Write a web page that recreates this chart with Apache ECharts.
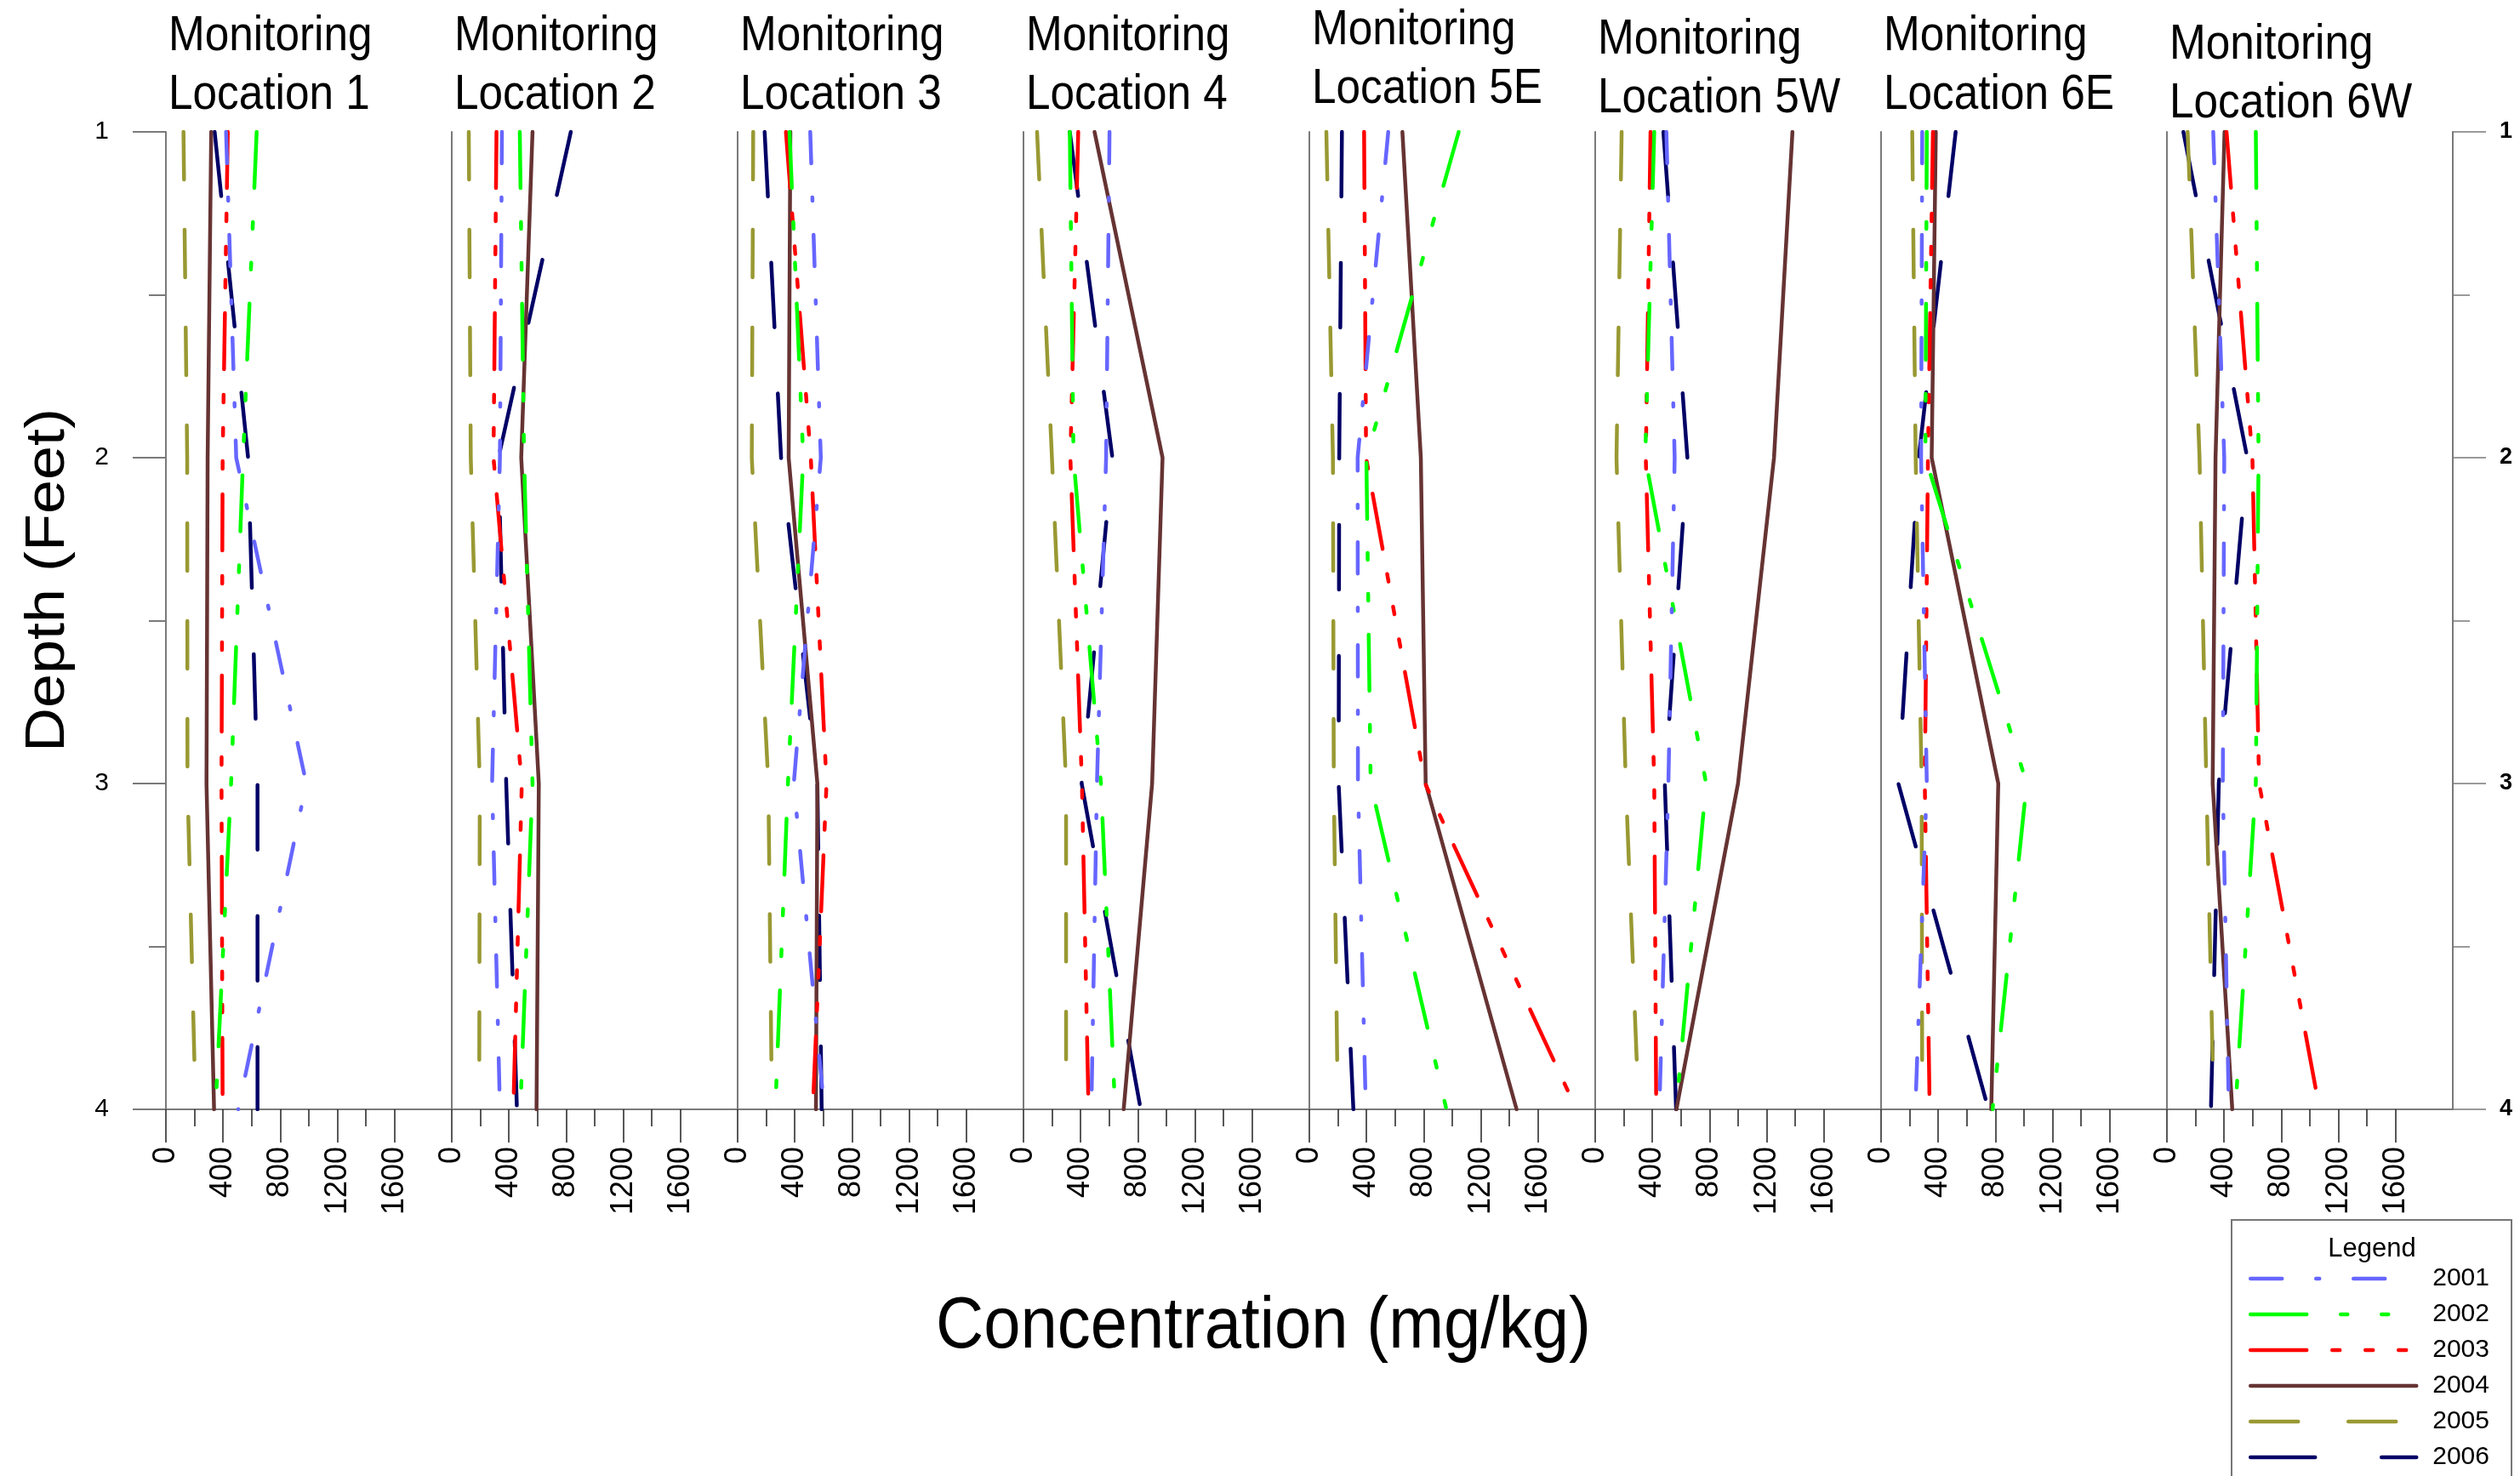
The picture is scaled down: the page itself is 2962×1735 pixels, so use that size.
<!DOCTYPE html>
<html><head><meta charset="utf-8">
<script src="https://cdn.jsdelivr.net/npm/echarts@6/dist/echarts.min.js"></script>
<style>html,body{margin:0;padding:0;background:#fff}#chart{width:2962px;height:1735px}</style>
</head><body><div id="chart"></div>
<script>
// ---------------- data ----------------
const locations = ['Location 1','Location 2','Location 3','Location 4','Location 5E','Location 5W','Location 6E','Location 6W'];
const depths = [1, 2, 3, 4];
const years = ['2001','2002','2003','2004','2005','2006'];
const xTickValues = [0, 400, 800, 1200, 1600];
const xMinorTickValues = [200, 600, 1000, 1400];
const depthTickValues = [1, 2, 3, 4];
// concentration (mg/kg) for each location at depths 1,2,3,4
const c2001 = [[421,492,982,506],[351,337,282,337],[508,582,393,606],[602,578,514,475],[552,338,340,395],[498,556,512,449],[288,280,320,240],[324,401,391,433]];
const c2002 = [[635,540,456,347],[476,506,565,480],[363,459,352,264],[324,350,542,641],[1045,399,429,959],[413,350,776,566],[320,310,1019,780],[622,641,622,479]];
const c2003 = [[433,397,389,397],[313,292,490,431],[338,512,622,526],[383,328,409,455],[383,397,810,1869],[387,354,413,427],[363,328,306,340],[417,598,645,1068]];
const c2004 = [[317,292,284,337],[565,486,609,593],[369,357,558,548],[497,973,900,701],[651,780,814,1450],[1380,1251,999,568],[383,354,820,771],[403,340,320,457]];
const c2005 = [[123,149,151,208],[119,133,196,192],[109,99,215,240],[95,199,298,298],[119,165,171,199],[185,149,214,304],[218,242,284,288],[145,228,276,328]];
const c2006 = [[341,575,641,641],[833,327,381,456],[189,304,558,588],[324,622,407,820],[228,209,205,308],[477,645,487,566],[522,264,121,751],[115,562,363,308]];
const yearValues = [c2001, c2002, c2003, c2004, c2005, c2006];

// ---------------- styles ----------------
const yearColors = ['#6666ff', '#00ff00', '#ff0000', '#663333', '#999933', '#000066'];
const yearDashes = [[37,40,4,40], [66,40,8,40,8,40], [66,30,9,30,9,30,9,30], 'solid', [56,59], [76,78]];
const FONT = '"Liberation Sans", Arial, sans-serif';
const PANEL_LEFT = 195, PANEL_W = 336, TOP = 155, BOTTOM_Y = 1304;
const titleShift = [0, 0, 0, 0, -7, 4, 0, 10];

const grids = [], xAxes = [], yAxes = [], series = [], graphics = [];
const axisGrey = '#7a7a7a';
let gid = 0;
const nextId = () => 'g' + (gid++);

locations.forEach((loc, i) => {
  grids.push({left: PANEL_LEFT + PANEL_W * i, top: TOP, width: PANEL_W, height: BOTTOM_Y - TOP});
  xAxes.push({
    gridIndex: i, type: 'value', min: 0, max: 2000, interval: 400, position: 'bottom',
    axisLine: {show: true, onZero: false, lineStyle: {color: axisGrey, width: 2}},
    axisTick: {show: true, customValues: xTickValues, length: 39, lineStyle: {color: '#222', width: 1.5}},
    axisLabel: {show: true, customValues: xTickValues, rotate: 90, margin: 44, fontSize: 36, color: '#000',
      fontFamily: FONT, formatter: v => String(v)},
    splitLine: {show: false}
  });
  xAxes.push({
    gridIndex: i, type: 'value', min: 0, max: 2000, interval: 400, position: 'bottom',
    axisLine: {show: false, onZero: false},
    axisTick: {show: true, customValues: xMinorTickValues, length: 20, lineStyle: {color: '#222', width: 1.5}},
    axisLabel: {show: false}, splitLine: {show: false}
  });
  const first = i === 0;
  yAxes.push({
    gridIndex: i, type: 'value', inverse: true, min: 1, max: 4, interval: 1, position: 'left',
    axisLine: {show: true, onZero: false, lineStyle: {color: axisGrey, width: 2}},
    axisTick: {show: first, length: 39, lineStyle: {color: axisGrey, width: 2}},
    minorTick: {show: first, splitNumber: 2, length: 20, lineStyle: {color: axisGrey, width: 2}},
    axisLabel: {show: false},
    splitLine: {show: false}, minorSplitLine: {show: false}
  });
  years.forEach((yr, k) => {
    series.push({
      type: 'line', name: yr, xAxisIndex: i * 2, yAxisIndex: i,
      data: depths.map((d, j) => [yearValues[k][i][j], d]),
      symbol: 'none', silent: true, animation: false, z: 3 + (5 - k),
      itemStyle: {color: yearColors[k]},
      lineStyle: {color: yearColors[k], width: 4.5, type: yearDashes[k], cap: 'round', join: 'round'}
    });
  });
  const tx = PANEL_LEFT + PANEL_W * i + 3;
  const tstyle = {font: '57px ' + FONT, fill: '#000', align: 'left', verticalAlign: 'middle'};
  graphics.push({id: nextId(), type: 'text', x: tx, y: 43 + titleShift[i], scaleX: 0.9, style: Object.assign({text: 'Monitoring'}, tstyle)});
  graphics.push({id: nextId(), type: 'text', x: tx, y: 112 + titleShift[i], scaleX: 0.9, style: Object.assign({text: loc}, tstyle)});
});

// right-hand depth axis on the last panel
yAxes.push({
  gridIndex: 7, type: 'value', inverse: true, min: 1, max: 4, interval: 1, position: 'right',
  axisLine: {show: true, onZero: false, lineStyle: {color: axisGrey, width: 2}},
  axisTick: {show: true, length: 39, lineStyle: {color: axisGrey, width: 1.5}},
  minorTick: {show: true, splitNumber: 2, length: 20, lineStyle: {color: axisGrey, width: 1.5}},
  axisLabel: {show: false},
  splitLine: {show: false}, minorSplitLine: {show: false}
});

graphics.push({id: nextId(), type: 'text', x: 57, y: 682, rotation: Math.PI / 2, scaleY: 0.9,
  style: {text: 'Depth (Feet)', font: '72px ' + FONT, fill: '#000', align: 'center', verticalAlign: 'middle'}});
graphics.push({id: nextId(), type: 'text', x: 1485, y: 1560, scaleX: 0.905,
  style: {text: 'Concentration (mg/kg)', font: '86px ' + FONT, fill: '#000', align: 'center', verticalAlign: 'middle'}});
graphics.push({id: nextId(), type: 'rect', shape: {x: 2623, y: 1434, width: 329, height: 340},
  style: {fill: '#fff', stroke: '#777', lineWidth: 2}, z: -1});
graphics.push({id: nextId(), type: 'text', x: 2788, y: 1468,
  style: {text: 'Legend', font: '31px ' + FONT, fill: '#000', align: 'center', verticalAlign: 'middle'}});

const chart = echarts.init(document.getElementById('chart'), null, {renderer: 'canvas'});
chart.setOption({
  animation: false,
  backgroundColor: '#ffffff',
  grid: grids, xAxis: xAxes, yAxis: yAxes, series: series,
  legend: {
    data: years, orient: 'vertical', left: 2643, top: 1488, padding: 0,
    itemWidth: 195, itemHeight: 20, itemGap: 12,
    selectedMode: false, z: 10,
    itemStyle: {opacity: 0},
    lineStyle: {width: 4.5, cap: 'round'},
    textStyle: {fontSize: 30, color: '#000', fontFamily: FONT, padding: [0, 0, 0, 14]}
  },
  graphic: graphics
});

// depth tick labels placed through the depth axes' own scales
const depthLabels = [];
depthTickValues.forEach(d => {
  const pl = chart.convertToPixel({xAxisIndex: 0, yAxisIndex: 0}, [0, d]);
  depthLabels.push({id: nextId(), type: 'text', x: pl[0] - 67, y: pl[1],
    style: {text: String(d), font: '30px ' + FONT, fill: '#000', align: 'right', verticalAlign: 'middle'}});
  const pr = chart.convertToPixel({xAxisIndex: 14, yAxisIndex: 8}, [2000, d]);
  depthLabels.push({id: nextId(), type: 'text', x: pr[0] + 55, y: pr[1],
    style: {text: String(d), font: 'bold 27px ' + FONT, fill: '#000', align: 'left', verticalAlign: 'middle'}});
});
chart.setOption({graphic: graphics.concat(depthLabels)});
</script></body></html>
